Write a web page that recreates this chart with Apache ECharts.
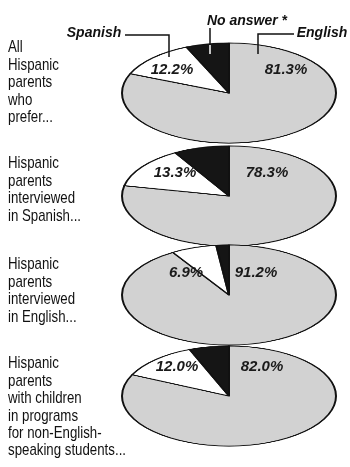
<!DOCTYPE html>
<html><head><meta charset="utf-8">
<script src="https://cdn.jsdelivr.net/npm/echarts@6/dist/echarts.min.js"></script>
<style>
html,body{margin:0;padding:0;background:#fff;overflow:hidden;width:350px;height:467px;}
#pies{position:absolute;left:0;top:0;width:350px;transform-origin:0 0;}
#texts{position:absolute;left:0;top:0;width:350px;height:467px;}
</style></head><body>
<div id="pies"></div><div id="texts"></div>
<script>
// ---- data ----
const groupLabels = [
  ['All', 'Hispanic', 'parents', 'who', 'prefer...'],
  ['Hispanic', 'parents', 'interviewed', 'in Spanish...'],
  ['Hispanic', 'parents', 'interviewed', 'in English...'],
  ['Hispanic', 'parents', 'with children', 'in programs', 'for non-English-', 'speaking students...']
];
const sliceNames = ['English', 'Spanish', 'No answer *'];
const english  = [81.3, 78.3, 91.2, 82.0];
const spanish  = [12.2, 13.3, 6.9, 12.0];
const noAnswer = [6.5, 8.4, 1.9, 6.0];

// ---- layout ----
const SQUASH = 0.468;
const PIE_CX = 229, PIE_R = 107;
const pieCY = [93, 196, 295, 396];
const labelTop = [39, 155, 256, 355];
const LINE_H = 17.4;
const spanishLabelPos = [[172, 70], [175, 173], [186, 273], [177, 367]];
const englishLabelPos = [[286, 70], [267, 173], [256, 273], [262, 367]];

const FONT = '"Liberation Sans", Arial, sans-serif';
const sliceColors = ['#d2d2d2', '#ffffff', '#151515'];

// narrow font for the row labels: use Liberation Sans Narrow if present, else compress
const cv = document.createElement('canvas').getContext('2d');
cv.font = '17px "Liberation Sans Narrow", monospace';
const wNarrow = cv.measureText('speaking students...').width;
cv.font = '17px monospace';
const wMono = cv.measureText('speaking students...').width;
const hasNarrow = Math.abs(wNarrow - wMono) > 0.5;
const rowFont = hasNarrow ? '17px "Liberation Sans Narrow", ' + FONT : '17px ' + FONT;
cv.font = rowFont;
const rowScaleX = 118 / cv.measureText('speaking students...').width;

const piesEl = document.getElementById('pies');
piesEl.style.height = (467 / SQUASH) + 'px';
piesEl.style.transform = 'scaleY(' + SQUASH + ')';

const pieChart = echarts.init(piesEl, null, {renderer: 'canvas'});
pieChart.setOption({
  animation: false,
  series: english.map((e, i) => ({
    type: 'pie',
    silent: true,
    radius: PIE_R,
    center: [PIE_CX, pieCY[i] / SQUASH],
    startAngle: 90,
    clockwise: true,
    label: {show: false},
    labelLine: {show: false},
    itemStyle: {borderColor: '#111', borderWidth: 2},
    data: [e, spanish[i], noAnswer[i]].map((v, k) => ({
      name: sliceNames[k], value: v, itemStyle: {color: sliceColors[k]}
    }))
  }))
});

// ---- text overlay ----
const graphic = [];
groupLabels.forEach((lines, i) => {
  graphic.push({
    type: 'text', x: 8, y: labelTop[i], scaleX: rowScaleX,
    style: {text: lines.join('\n'), font: rowFont, lineHeight: LINE_H,
            fill: '#111', textAlign: 'left', textVerticalAlign: 'top'}
  });
});
const pctFont = 'italic bold 15px ' + FONT;
english.forEach((e, i) => {
  graphic.push({type: 'text', x: spanishLabelPos[i][0], y: spanishLabelPos[i][1],
    style: {text: spanish[i].toFixed(1) + '%', font: pctFont, fill: '#1a1a1a',
            textAlign: 'center', textVerticalAlign: 'middle'}});
  graphic.push({type: 'text', x: englishLabelPos[i][0], y: englishLabelPos[i][1],
    style: {text: e.toFixed(1) + '%', font: pctFont, fill: '#1a1a1a',
            textAlign: 'center', textVerticalAlign: 'middle'}});
});
// callouts
const calloutFont = 'italic bold 14px ' + FONT;
graphic.push({type: 'text', x: 94, y: 33, style: {text: sliceNames[1], font: calloutFont, fill: '#111', textAlign: 'center', textVerticalAlign: 'middle'}});
graphic.push({type: 'text', x: 247, y: 21, style: {text: sliceNames[2], font: calloutFont, fill: '#111', textAlign: 'center', textVerticalAlign: 'middle'}});
graphic.push({type: 'text', x: 322, y: 33, style: {text: sliceNames[0], font: calloutFont, fill: '#111', textAlign: 'center', textVerticalAlign: 'middle'}});
graphic.push({type: 'polyline', shape: {points: [[125, 35], [169, 35], [169, 57]]}, style: {stroke: '#111', lineWidth: 1.5, fill: null}});
graphic.push({type: 'polyline', shape: {points: [[210, 28], [210, 45]]}, style: {stroke: '#111', lineWidth: 1.5, fill: null}});
graphic.push({type: 'polyline', shape: {points: [[210, 45], [210, 54]]}, style: {stroke: '#fff', lineWidth: 1.5, fill: null}});
graphic.push({type: 'polyline', shape: {points: [[294, 34], [258, 34], [258, 54]]}, style: {stroke: '#111', lineWidth: 1.5, fill: null}});

const textChart = echarts.init(document.getElementById('texts'), null, {renderer: 'canvas'});
textChart.setOption({animation: false, graphic: graphic});
</script>
</body></html>
